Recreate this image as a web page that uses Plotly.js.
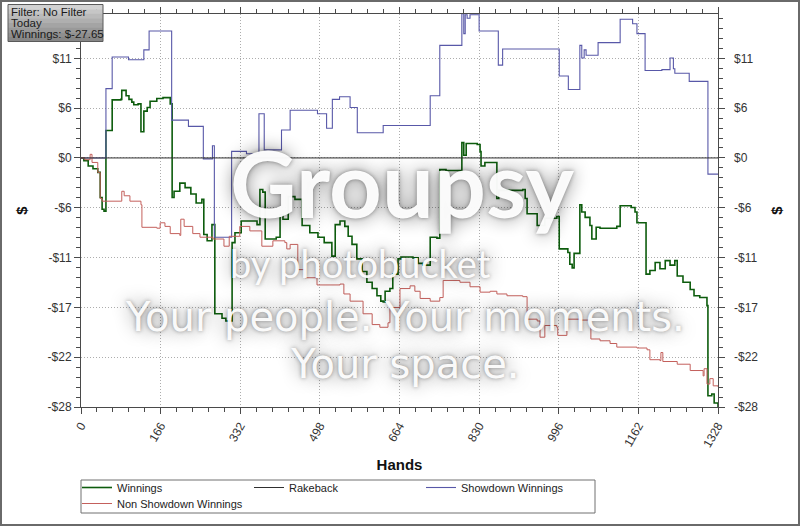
<!DOCTYPE html>
<html>
<head>
<meta charset="utf-8">
<script src="https://cdn.plot.ly/plotly-3.0.1.min.js"></script>
<style>
  html, body { margin: 0; padding: 0; background: #fff; }
  #chart { width: 800px; height: 526px; }
</style>
</head>
<body>
<div id="chart"></div>
<script>
// Session results by hand number (step lines)
const winHands = [0, 6, 15, 25, 35, 40, 44, 48, 52, 65, 83, 85, 94, 100, 106, 110, 119, 125, 131, 138, 144, 158, 171, 186, 190, 194, 206, 217, 229, 240, 252, 256, 263, 273, 279, 294, 302, 315, 321, 334, 367, 373, 379, 384, 407, 415, 421, 432, 446, 461, 477, 494, 507, 523, 530, 540, 550, 557, 565, 575, 586, 596, 607, 617, 625, 630, 634, 644, 650, 661, 667, 692, 703, 713, 728, 742, 748, 761, 792, 794, 798, 803, 826, 832, 834, 842, 853, 867, 871, 921, 926, 930, 951, 967, 992, 997, 1015, 1019, 1024, 1028, 1038, 1040, 1044, 1051, 1061, 1065, 1074, 1082, 1117, 1124, 1147, 1155, 1159, 1176, 1178, 1186, 1197, 1207, 1218, 1228, 1238, 1243, 1255, 1270, 1278, 1290, 1301, 1305, 1307, 1315, 1320, 1328];
const winnings = [0, -0.3, -0.9, -1.2, -1.6, -4.4, -5.7, -5.9, 3.05, 6.45, 6.5, 7.5, 6.9, 6.5, 6.2, 5.9, 6.0, 2.9, 5.2, 5.6, 6.3, 6.6, 6.7, 6.0, -4.4, -3.7, -2.8, -3.3, -4.0, -5.0, -4.6, -8.5, -9.2, -7.4, -17.3, -17.8, -18.1, -9.4, -8.3, -7.0, -7.4, -3.5, -3.8, -9.0, -8.8, -6.3, -6.8, -4.3, -4.6, -7.5, -8.3, -8.8, -9.4, -10.9, -7.4, -7.0, -7.6, -8.7, -9.6, -11.2, -12.6, -13.8, -14.5, -15.3, -15.9, -16.0, -14.8, -14.5, -12.9, -11.2, -11.0, -11.1, -11.7, -11.9, -8.8, -8.9, -1.3, -1.4, -1.6, 1.7, 0.3, 1.6, 1.5, 0.7, -0.9, -0.5, -0.5, -4.5, -3.6, -3.5, -4.5, -6.2, -7.5, -6.7, -6.5, -10.1, -10.5, -11.8, -12.2, -10.6, -10.6, -5.2, -6.0, -6.6, -7.5, -9.0, -7.7, -7.8, -7.6, -5.3, -5.5, -6.0, -7.2, -7.2, -12.9, -12.5, -11.6, -12.3, -11.4, -11.9, -11.4, -13.1, -13.8, -14.6, -15.3, -15.5, -15.5, -16.4, -26.4, -26.2, -27.2, -27.65];

const rakeHands = [0, 1328];
const rakeback = [0, 0];

const sdHands = [0, 52, 65, 99, 131, 142, 189, 224, 255, 274, 278, 314, 345, 371, 382, 418, 436, 493, 512, 524, 539, 561, 576, 630, 728, 748, 794, 798, 801, 805, 811, 830, 870, 879, 997, 1016, 1040, 1044, 1049, 1053, 1078, 1124, 1150, 1159, 1176, 1211, 1228, 1235, 1238, 1268, 1307, 1328];
const showdown = [0, 7.7, 11.2, 10.9, 12.0, 14.1, 4.2, 3.5, -0.1, 1.35, -8.8, 0.73, 0.47, 4.9, 0.9, 3.1, 5.3, 4.9, 3.3, 6.5, 6.8, 5.6, 2.8, 3.6, 6.9, 12.5, 16.0, 13.8, 15.9, 15.5, 15.9, 14.1, 10.3, 12.1, 9.1, 7.6, 12.5, 11.1, 12.0, 11.4, 12.8, 15.4, 14.9, 13.8, 9.7, 9.8, 11.1, 9.9, 9.4, 8.5, -1.8, -1.8];

const nsdHands = [0, 8, 19, 23, 35, 40, 44, 85, 90, 102, 125, 127, 158, 165, 175, 186, 206, 208, 215, 233, 248, 275, 298, 309, 331, 352, 377, 400, 425, 429, 436, 452, 467, 492, 540, 548, 561, 588, 607, 623, 640, 644, 665, 686, 696, 707, 728, 748, 755, 790, 811, 832, 853, 867, 888, 921, 930, 951, 957, 967, 992, 994, 1013, 1040, 1061, 1063, 1082, 1103, 1117, 1159, 1180, 1186, 1207, 1209, 1213, 1243, 1270, 1297, 1299, 1305, 1311, 1318, 1328];
const nonShowdown = [0, -0.2, 0.4, -0.5, -1.6, -4.5, -4.8, -3.7, -4.2, -4.8, -5.2, -7.7, -7.8, -7.2, -7.6, -8.4, -8.6, -6.8, -7.6, -8.4, -8.8, -9.0, -9.8, -8.7, -7.6, -8.1, -9.8, -9.2, -9.4, -10.1, -9.6, -12.4, -13.3, -14.1, -14.0, -15.1, -15.9, -17.3, -18.5, -18.8, -18.3, -16.6, -14.5, -14.2, -14.8, -15.6, -15.9, -15.5, -13.6, -13.8, -14.3, -14.9, -14.8, -15.1, -15.3, -15.4, -17.9, -18.1, -19.9, -18.6, -18.8, -19.7, -17.9, -18.0, -18.6, -20.1, -20.3, -20.6, -21.0, -21.1, -21.3, -22.4, -22.5, -21.6, -22.6, -22.9, -23.6, -24.2, -23.4, -25.1, -24.5, -25.3, -25.4];

// Axis ticks
const handTicks = [0, 166, 332, 498, 664, 830, 996, 1162, 1328];
const dollarTicks = [-27.65, -22.12, -16.59, -11.06, -5.53, 0, 5.53, 11.06];
const dollarLabels = ['-$28', '-$22', '-$17', '-$11', '-$6', '$0', '$6', '$11'];
const yRange = [-27.65, 15.98];
const xRange = [0, 1328];

const infoLines = ['Filter: No Filter', 'Today', 'Winnings: $-27.65'];
const watermark = ['Groupsy', 'by photobucket', 'Your people. Your moments.', 'Your space.'];

const FONT = '"Liberation Sans", Arial, sans-serif';
const WMFONT = 'Lato, "Open Sans", sans-serif';
const WMFONT2 = '"DejaVu Sans", Lato, sans-serif';
const AXC = '#4a4a4a';
const GRID = '#adadad';

const traces = [
  { x: winHands, y: winnings, name: 'Winnings', type: 'scatter', mode: 'lines', legend: 'legend',
    line: { shape: 'hv', color: '#0d5c0d', width: 1.6 } },
  { x: rakeHands, y: rakeback, name: 'Rakeback', type: 'scatter', mode: 'lines', yaxis: 'y2', legend: 'legend',
    line: { shape: 'hv', color: '#303030', width: 1 } },
  { x: sdHands, y: showdown, name: 'Showdown Winnings', type: 'scatter', mode: 'lines', legend: 'legend',
    line: { shape: 'hv', color: '#5858a8', width: 1.1 } },
  { x: nsdHands, y: nonShowdown, name: 'Non Showdown Winnings', type: 'scatter', mode: 'lines', legend: 'legend2',
    line: { shape: 'hv', color: '#c4605c', width: 1 } }
];

// pixel helpers for paper-referenced decorations (plot area 81..718 x 14..407)
const px = v => (v - 81) / 637;
const py = v => (407 - v) / 393;

const shapes = [];
// gradient filter box
const bandColors = ['#d2d2d2', '#c6c6c6', '#bababa', '#afafaf', '#a4a4a4', '#999999', '#8f8f8f', '#868686'];
const bTop = 4.5, bBot = 41.5, bh = (bBot - bTop) / bandColors.length;
bandColors.forEach((c, i) => {
  shapes.push({ type: 'rect', xref: 'paper', yref: 'paper', layer: 'above',
    x0: px(8), x1: px(103), y0: py(bTop + i * bh), y1: py(bTop + (i + 1) * bh + 0.5),
    fillcolor: c, line: { width: 0 } });
});
shapes.push({ type: 'rect', xref: 'paper', yref: 'paper', layer: 'above',
  x0: px(8), x1: px(103), y0: py(bTop), y1: py(bBot),
  fillcolor: 'rgba(0,0,0,0)', line: { color: '#5a5a5a', width: 1 } });
// legend frame
shapes.push({ type: 'rect', xref: 'paper', yref: 'paper', layer: 'above',
  x0: px(81), x1: px(595), y0: py(480), y1: py(513),
  fillcolor: 'rgba(0,0,0,0)', line: { color: '#707070', width: 1 } });
// outer frame
shapes.push({ type: 'rect', xref: 'paper', yref: 'paper', layer: 'above',
  x0: px(1), x1: px(799), y0: py(1), y1: py(525),
  fillcolor: 'rgba(0,0,0,0)', line: { color: '#6a6a6a', width: 2 } });

const annotations = [];
infoLines.forEach((t, i) => {
  annotations.push({ text: t, xref: 'paper', yref: 'paper', x: px(8.5), y: py(4 + i * 11),
    xanchor: 'left', yanchor: 'top', showarrow: false,
    font: { family: FONT, size: 11.5, color: '#1a1a1a' } });
});

// watermark: two text blocks, each with its own line spacing
const glow = '0px 0px 4px rgba(0,0,0,0.4), 0px 0px 18px rgba(0,0,0,0.5)';
const span = (t, size, bold) =>
  '<span style="font-size:' + size + 'px' + (bold ? ';font-weight:bold' : '') + '">' + t + '</span>';
annotations.push({
  text: span(watermark[0], 92, true) + '<br>' + span(watermark[1], 38, false),
  xref: 'paper', yref: 'paper', x: px(228), y: py(206), xanchor: 'left', yanchor: 'middle',
  align: 'left', showarrow: false,
  font: { family: WMFONT, size: 46, color: 'rgba(255,255,255,0.96)', shadow: glow }
});
annotations.push({
  text: span(watermark[2], 40, false) + '<br>' + span(watermark[3], 40, false),
  xref: 'paper', yref: 'paper', x: px(405), y: py(340), xanchor: 'center', yanchor: 'middle',
  align: 'center', showarrow: false,
  font: { family: WMFONT2, size: 36.5, color: 'rgba(255,255,255,0.96)', shadow: glow }
});

const minorX = { tickmode: 'linear', tick0: 0, dtick: 33.2, ticklen: 4, tickcolor: AXC, tickwidth: 1, showgrid: false };
const minorY = { tickmode: 'linear', tick0: 0, dtick: 1.106, ticklen: 4, tickcolor: AXC, tickwidth: 1, showgrid: false };
const legendBase = { orientation: 'h', x: px(77), xanchor: 'left', yanchor: 'top',
  borderwidth: 0, bgcolor: 'rgba(0,0,0,0)', entrywidth: 127, entrywidthmode: 'pixels',
  itemwidth: 30, traceorder: 'normal', font: { family: FONT, size: 11, color: '#222' } };

const layout = {
  width: 800, height: 526,
  margin: { l: 81, r: 82, t: 14, b: 119, autoexpand: false },
  paper_bgcolor: '#ffffff', plot_bgcolor: '#ffffff',
  font: { family: FONT, size: 12, color: '#2a2a2a' },
  showlegend: true,
  legend: Object.assign({}, legendBase, { y: py(473) }),
  legend2: Object.assign({}, legendBase, { y: py(489) }),
  xaxis: {
    range: xRange, tickmode: 'array', tickvals: handTicks, ticktext: handTicks.map(String),
    tickangle: -60, ticks: 'outside', ticklen: 6, tickcolor: AXC, tickwidth: 1,
    showline: true, linecolor: AXC, linewidth: 1, mirror: 'ticks',
    showgrid: true, gridcolor: GRID, griddash: '1px,2px', gridwidth: 1, zeroline: false,
    minor: Object.assign({ ticks: 'outside' }, minorX),
    tickfont: { family: FONT, size: 12, color: '#333' },
    title: { text: 'Hands', font: { family: FONT, size: 15, weight: 'bold', color: '#111' }, standoff: 10 }
  },
  xaxis2: {
    overlaying: 'x', anchor: 'y', range: xRange, tickmode: 'array', tickvals: handTicks,
    ticks: 'inside', ticklen: 6, tickcolor: AXC, showticklabels: false, mirror: 'ticks',
    showline: false, showgrid: false, zeroline: false,
    minor: Object.assign({ ticks: 'inside' }, minorX)
  },
  yaxis: {
    range: yRange, tickmode: 'array', tickvals: dollarTicks, ticktext: dollarLabels,
    ticks: 'outside', ticklen: 6, tickcolor: AXC, tickwidth: 1,
    showline: true, linecolor: AXC, linewidth: 1, mirror: 'ticks',
    showgrid: true, gridcolor: GRID, griddash: '1px,2px', gridwidth: 1, zeroline: false,
    minor: Object.assign({ ticks: 'outside' }, minorY),
    tickfont: { family: FONT, size: 12, color: '#333' },
    title: { text: '$', font: { family: FONT, size: 15, weight: 'bold', color: '#111' }, standoff: 16 }
  },
  yaxis2: {
    overlaying: 'y', side: 'right', anchor: 'x', range: yRange, tickmode: 'array',
    tickvals: dollarTicks, ticktext: dollarLabels, ticks: '', showline: false,
    showgrid: false, zeroline: false, ticklabelstandoff: 15,
    tickfont: { family: FONT, size: 12, color: '#333' },
    title: { text: '$', font: { family: FONT, size: 15, weight: 'bold', color: '#111' }, standoff: 14 }
  },
  yaxis3: {
    overlaying: 'y', side: 'left', anchor: 'x', range: yRange, tickmode: 'array',
    tickvals: dollarTicks, ticks: 'inside', ticklen: 6, tickcolor: AXC,
    showticklabels: false, mirror: 'ticks', showline: false, showgrid: false, zeroline: false,
    minor: Object.assign({ ticks: 'inside' }, minorY)
  },
  shapes: shapes,
  annotations: annotations
};

Plotly.newPlot('chart', traces, layout, { staticPlot: true, displayModeBar: false });
</script>
</body>
</html>
